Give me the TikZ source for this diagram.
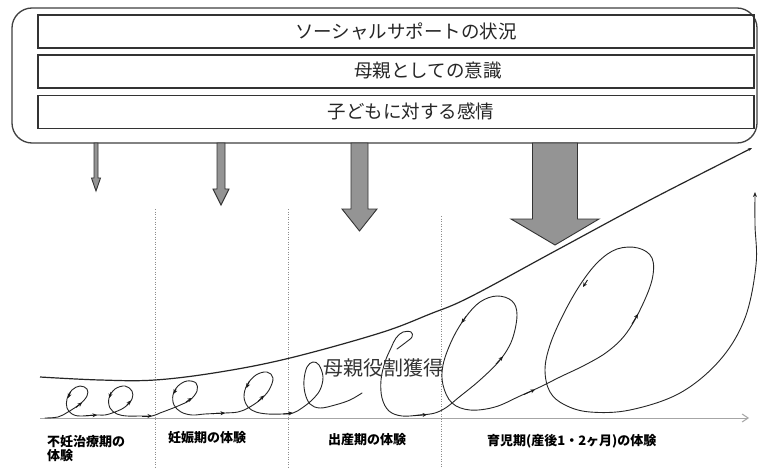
\documentclass[tikz,border=0pt]{standalone}
\usepackage{fontspec}
\newfontfamily\jp{Noto Sans CJK JP}
\usetikzlibrary{arrows.meta}
\tikzset{
  outerbox/.style={draw=black!75, line width=1.3pt, rounded corners=20pt},
  rowbox/.style={draw=black!80, line width=1.1pt, minimum width=716pt, minimum height=33pt, inner sep=0pt},
  rowtext/.style={font=\jp\fontsize{18.5}{20}\selectfont, text=black!85, inner sep=0pt},
  barrow/.style={fill=black!42, draw=black!80, line width=0.9pt, line join=miter},
  envelope/.style={draw=black!85, line width=1.2pt},
  spiral/.style={draw=black!85, line width=0.9pt, line cap=round, line join=round},
  mk/.style={draw=black!90, line width=0.9pt, -{Stealth[length=4.5pt,width=4pt]}},
  divider/.style={draw=black!45, line width=0.6pt, dash pattern=on 1pt off 1.5pt},
  axisline/.style={draw=black!35, line width=1pt, -{Straight Barb[length=6pt,width=8pt]}},
  phase/.style={font=\jp\bfseries\fontsize{13}{16}\selectfont, inner sep=0pt, anchor=west, align=left},
  centre/.style={font=\jp\fontsize{20}{22}\selectfont, text=black!80, inner sep=0pt}
}
\begin{document}
\begin{tikzpicture}[x=1pt,y=-1pt]
\useasboundingbox (0,0) rectangle (758,468);
\fill[white] (0,0) rectangle (758,468);

% outer rounded frame
\draw[outerbox] (12,8) rectangle (757,143);

% three rows
\node[rowbox] (b1) at (396,31.5) {};
\node[rowbox] (b2) at (396,71.5) {};
\node[rowbox] (b3) at (396,112) {};
\node[rowtext] (t1) at (406,31) {ソーシャルサポートの状況};
\node[rowtext] (t2) at (428,71) {母親としての意識};
\node[rowtext] (t3) at (411,111.5) {子どもに対する感情};

% block arrows (centre, half shaft, half head, head top, tip)
\draw[barrow] (94,143) -- (94,178) -- (91.5,178) -- (96,191) -- (100.5,178) -- (98,178) -- (98,143) -- cycle;
\draw[barrow] (217,143) -- (217,189) -- (213,189) -- (221,205) -- (229,189) -- (225,189) -- (225,143) -- cycle;
\draw[barrow] (351,143) -- (351,209) -- (342,209) -- (359.5,231) -- (377,209) -- (368,209) -- (368,143) -- cycle;
\draw[barrow] (532.5,143) -- (532.5,219) -- (511,219) -- (555,245) -- (599,219) -- (577.5,219) -- (577.5,143) -- cycle;

% dotted period dividers
\draw[divider] (155,209) -- (155,468);
\draw[divider] (288,209) -- (288,468);
\draw[divider] (441,216) -- (441,468);

% time axis
\coordinate (ax0) at (40,418);
\coordinate (ax1) at (749,418);
\draw[axisline] (ax0) -- (ax1);

% envelope curve
\draw[envelope, -{Stealth[length=4pt,width=3pt]}] plot[smooth, tension=0.6] coordinates {(40,377) (100,380) (155,380) (220,372) (290,358) (380,333) (430,314) (470,297) (557,250) (650,200) (752,148)};

% spiral, part 1
\draw[spiral] plot[smooth, tension=0.6] coordinates {(45,418) (58,417) (68,412) (80,404) (87,396) (87,389) (80,386) (72,390) (67,399) (67,408) (72,414) (80,416) (97,415) (105,415) (115,412) (125,407) (132,399) (132,391) (125,386) (115,389) (109,398) (110,408) (117,414) (127,416) (140,416) (152,416) (160,413) (168,410) (178,406) (190,400) (197,391) (196,383) (187,381) (178,386) (173,395) (174,405) (181,412) (192,415) (205,414) (225,413) (238,412) (248,408) (260,400) (269,390) (273,378) (267,372) (256,375) (247,385) (244,397) (248,407) (256,412) (268,414) (282,414) (293,413) (302,408) (312,400) (320,390) (323,377) (319,365) (313,362) (307,367) (304,380) (305,393) (310,404) (320,408) (335,405) (350,400) (362,393)};

% spiral, part 2
\draw[spiral, -{Stealth[length=5pt,width=4pt]}] plot[smooth, tension=0.6] coordinates {(397,349) (405,343) (412,337) (411,332) (403,332) (396,338) (391,348) (385,362) (381,380) (382,398) (389,411) (402,416) (420,415) (435,413) (447,407) (458,398) (480,380) (500,360) (512,340) (517,315) (512,301) (497,296) (480,302) (465,318) (452,340) (443,365) (443,385) (452,403) (470,410) (495,407) (520,396) (540,387) (560,377) (585,365) (607,352) (625,335) (640,310) (652,280) (652,258) (638,248) (617,249) (598,262) (580,285) (563,315) (550,345) (545,370) (550,392) (565,405) (590,412) (630,410) (680,393) (720,360) (745,318) (756,265) (755,225) (755,192)};

% direction markers on the spiral
\draw[mk] (76,407.5) -- (82,402.5);
\draw[mk] (70.5,392) -- (68,398);
\draw[mk] (86,415.7) -- (97,415);
\draw[mk] (127,405) -- (131,400.5);
\draw[mk] (111,392) -- (109.3,398);
\draw[mk] (142,416) -- (152,416);
\draw[mk] (186,402) -- (192,398);
\draw[mk] (176,389) -- (173.5,394);
\draw[mk] (213,413.6) -- (225,413);
\draw[mk] (258,401.5) -- (264,395.5);
\draw[mk] (249.5,381) -- (246.5,388);
\draw[mk] (283,414) -- (293,413);
\draw[mk] (415,415.6) -- (427,414.6);
\draw[mk] (496,364) -- (503,356.5);
\draw[mk] (466,316.5) -- (461.5,323);
\draw[mk] (524,394.5) -- (535,389.5);
\draw[mk] (632,324) -- (638,314);
\draw[mk] (587.5,280) -- (583,287);

% centre label
\node[centre] (role) at (383,368) {母親役割獲得};

% phase labels
\node[phase] (p1) at (47,449) {不妊治療期の\\[-2pt]体験};
\node[phase] (p2) at (168,438) {妊娠期の体験};
\node[phase] (p3) at (328,440) {出産期の体験};
\node[phase] (p4) at (487,441) {育児期(産後1・2ヶ月)の体験};
\end{tikzpicture}
\end{document}
